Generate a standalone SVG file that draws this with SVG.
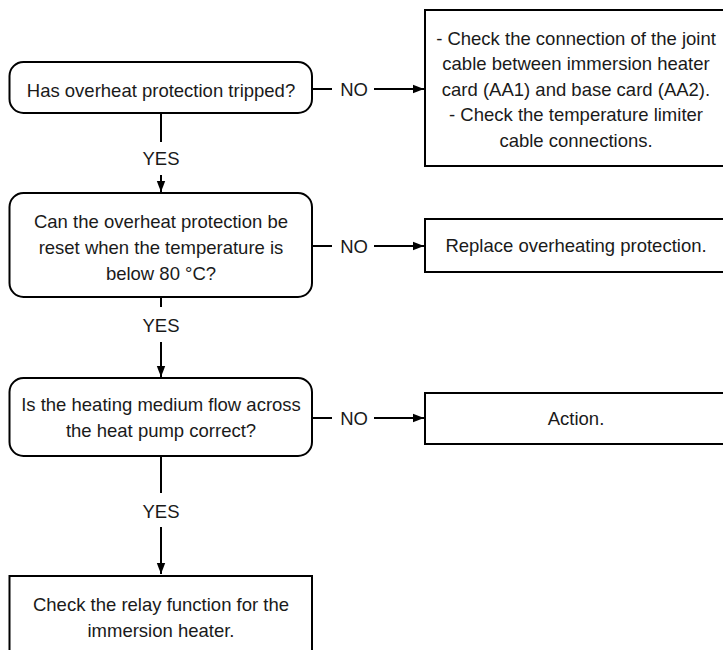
<svg xmlns="http://www.w3.org/2000/svg" width="723" height="650" viewBox="0 0 723 650">
<defs>
<marker id="ah" markerUnits="userSpaceOnUse" markerWidth="12" markerHeight="10" refX="11" refY="5" orient="auto">
<path d="M0,0.8 L11,5 L0,9.2 Z" fill="#000"/>
</marker>
<style>
.box{fill:#fff;stroke:#000;stroke-width:2}
.t{font-family:"Liberation Sans",Arial,sans-serif;font-size:18.5px;fill:#1a1a1a;text-anchor:middle}
.c{fill:none;stroke:#000;stroke-width:2}
</style>
</defs>
<rect width="723" height="650" fill="#fff"/>
<g id="connectors">
<line class="c" x1="161" y1="113" x2="161" y2="142"/>
<line class="c" x1="161" y1="175" x2="161" y2="192" marker-end="url(#ah)"/>
<text class="t" x="161" y="165">YES</text>
<line class="c" x1="161" y1="297" x2="161" y2="307"/>
<line class="c" x1="161" y1="342" x2="161" y2="377" marker-end="url(#ah)"/>
<text class="t" x="161" y="332">YES</text>
<line class="c" x1="161" y1="456" x2="161" y2="493"/>
<line class="c" x1="161" y1="527" x2="161" y2="574" marker-end="url(#ah)"/>
<text class="t" x="161" y="518">YES</text>
<line class="c" x1="312" y1="89" x2="332" y2="89"/>
<text class="t" x="354" y="96">NO</text>
<line class="c" x1="374" y1="89" x2="424" y2="89" marker-end="url(#ah)"/>
<line class="c" x1="312" y1="246" x2="332" y2="246"/>
<text class="t" x="354" y="253">NO</text>
<line class="c" x1="374" y1="246" x2="424" y2="246" marker-end="url(#ah)"/>
<line class="c" x1="312" y1="418" x2="332" y2="418"/>
<text class="t" x="354" y="425">NO</text>
<line class="c" x1="374" y1="418" x2="424" y2="418" marker-end="url(#ah)"/>
</g>
<g id="q1">
<rect class="box" x="9.5" y="62" width="302.5" height="51" rx="14"/>
<text class="t" x="161" y="96.5">Has overheat protection tripped?</text>
</g>
<g id="q2">
<rect class="box" x="9.5" y="193" width="302.5" height="104" rx="14"/>
<text class="t" x="161" y="227.5">Can the overheat protection be</text>
<text class="t" x="161" y="253.5">reset when the temperature is</text>
<text class="t" x="161" y="279.5">below 80 °C?</text>
</g>
<g id="q3">
<rect class="box" x="9.5" y="378" width="302.5" height="78" rx="14"/>
<text class="t" x="161" y="410.5">Is the heating medium flow across</text>
<text class="t" x="161" y="436.5">the heat pump correct?</text>
</g>
<g id="a4">
<rect class="box" x="9.5" y="576" width="302.5" height="90"/>
<text class="t" x="161" y="611">Check the relay function for the</text>
<text class="t" x="161" y="637">immersion heater.</text>
</g>
<g id="a1">
<rect class="box" x="425" y="10" width="302" height="156"/>
<text class="t" x="576" y="44.5">- Check the connection of the joint</text>
<text class="t" x="576" y="70">cable between immersion heater</text>
<text class="t" x="576" y="95.5">card (AA1) and base card (AA2).</text>
<text class="t" x="576" y="121">- Check the temperature limiter</text>
<text class="t" x="576" y="146.5">cable connections.</text>
</g>
<g id="a2">
<rect class="box" x="425" y="219" width="302" height="53"/>
<text class="t" x="576" y="252">Replace overheating protection.</text>
</g>
<g id="a3">
<rect class="box" x="425" y="393" width="302" height="51"/>
<text class="t" x="576" y="425">Action.</text>
</g>
</svg>
